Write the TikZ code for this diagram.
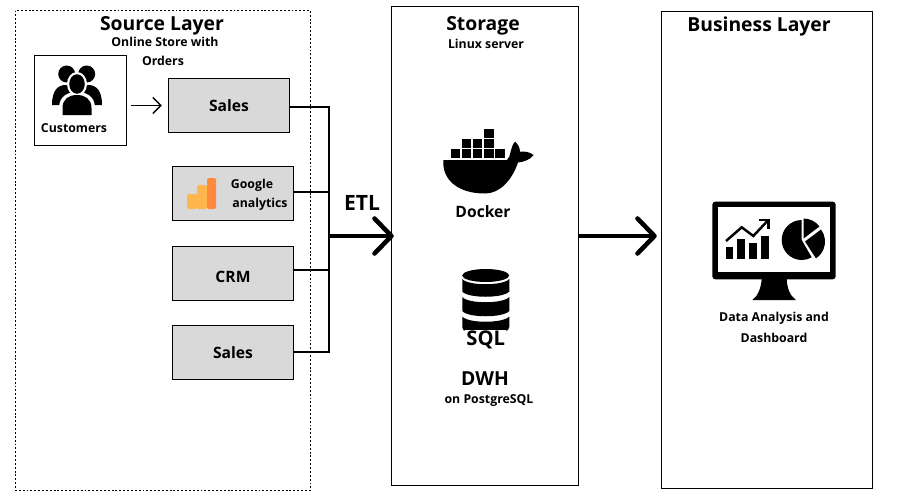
\documentclass[tikz,border=0pt]{standalone}
\usepackage{fontspec}
\setmainfont{Open Sans}
\usetikzlibrary{arrows.meta, positioning, shapes.geometric}
\definecolor{boxgray}{HTML}{D9D9D9}
\definecolor{gaLight}{HTML}{FFB74D}
\definecolor{gaDark}{HTML}{FF8A3D}
\tikzset{
  layerbox/.style={draw=black, line width=0.55pt, minimum width=#1, inner sep=0pt},
  srcbox/.style={draw=black, fill=boxgray, line width=0.55pt, minimum width=24.3mm, minimum height=10.9mm, inner sep=0pt},
  txttitle/.style={font=\fontsize{11}{13}\selectfont\bfseries, inner sep=0pt},
  txtbig/.style={font=\fontsize{11}{13}\selectfont\bfseries, inner sep=0pt},
  txtmid/.style={font=\fontsize{8.9}{10}\selectfont\bfseries, inner sep=0pt},
  txtsmall/.style={font=\fontsize{7}{8}\selectfont\bfseries, inner sep=0pt},
  busline/.style={line width=1.4pt, line cap=rect},
  bigarrow/.style={line width=2.6pt, -{Straight Barb[length=3.4mm,width=7mm,round]}},
}
\begin{document}
\begin{tikzpicture}[x=0.2mm, y=-0.2mm]
  \useasboundingbox (0,0) rectangle (914,500);
  \fill[white] (0,0) rectangle (914,500);

  % layers
  \node[layerbox=58.8mm, minimum height=95.8mm, draw=none] (source) at (163,250.5) {};
  \draw[line width=0.55pt, dash pattern=on 1.1pt off 1.1pt] (source.north west) rectangle (source.south east);
  \node[layerbox=37.5mm, minimum height=95.9mm] (storage) at (485,246) {};
  \node[layerbox=42.3mm, minimum height=95.5mm] (business) at (767,250) {};

  \node[txttitle] (sourcetitle) at (162,26) {Source Layer};
  \node[txtsmall] (sourcesub) at (165,42) {Online Store with};
  \node[txtsmall] (sourcesubb) at (163,61) {Orders};
  \node[txttitle] (storagetitle) at (483,26) {Storage};
  \node[txtsmall] (storagesub) at (486,44) {Linux server};
  \node[txttitle] (businesstitle) at (759,26) {Business Layer};

  % sources
  \node[layerbox=18.4mm, minimum height=18mm] (customers) at (80.5,100.5) {};
  \node[txtsmall] (customerstxt) at (74,128) {Customers};
  \node[srcbox] (salesa) at (229,105.5) {};
  \node[txtmid] (salesatxt) at (229,106) {Sales};
  \node[srcbox] (google) at (233,193.5) {};
  \node[txtsmall] (googletxt) at (252,185) {Google};
  \node[txtsmall] (analyticstxt) at (260,204) {analytics};
  \node[srcbox] (crm) at (233,273.5) {};
  \node[txtmid] (crmtxt) at (233,277) {CRM};
  \node[srcbox] (salesb) at (233,352.5) {};
  \node[txtmid] (salesbtxt) at (233,352.5) {Sales};

  % people icon
  \fill (66.7,74) circle[radius=1.7mm];
  \fill (86.7,74) circle[radius=1.7mm];
  \fill (52,105) .. controls (52,90) and (58,85) .. (66,85) -- (88,85)
        .. controls (96,85) and (102,90) .. (102,105) -- cycle;
  \fill[white] (77,84) ellipse[x radius=2mm, y radius=2.4mm];
  \fill[white] (59,116) -- (59,108) .. controls (59,96) and (68,92) .. (77,92)
        .. controls (86,92) and (95,96) .. (95,108) -- (95,116) -- cycle;
  \fill (77,84) ellipse[x radius=1.55mm, y radius=1.95mm];
  \fill (62.5,115) -- (62.5,108) .. controls (62.5,99) and (69,95) .. (77,95)
        .. controls (85,95) and (91.5,99) .. (91.5,108) -- (91.5,115) -- cycle;

  % google analytics icon
  \fill[gaLight, rounded corners=0.3mm] (187,194) rectangle (197,209);
  \fill[gaLight, rounded corners=0.3mm] (197,185) rectangle (207,209);
  \fill[gaDark, rounded corners=0.3mm] (207,178) rectangle (216,209);

  % connectors
  \coordinate (busa) at (329,107);
  \coordinate (busb) at (329,192);
  \coordinate (busc) at (329,270);
  \coordinate (busd) at (329,352);
  \coordinate (busmid) at (329,236);
  \coordinate (etltip) at ([xshift=0.6mm]storage.west |- busmid);
  \coordinate (outstart) at (storage.east |- busmid);
  \coordinate (outtip) at ([xshift=-0.8mm]business.west |- busmid);
  \draw[line width=0.8pt, -{Straight Barb[length=1.6mm,width=3.2mm]}, shorten <=0.8mm, shorten >=1.2mm]
        (customers.east |- salesa) -- (salesa.west);
  \draw[busline] (salesa.east |- busa) -- (busa) -- (busd) -- (salesb.east |- busd);
  \draw[busline] (google.east |- busb) -- (busb);
  \draw[busline] (crm.east |- busc) -- (busc);
  \draw[bigarrow] (busmid) -- (etltip);
  \draw[bigarrow] (outstart) -- (outtip);
  \node[font=\fontsize{12}{14}\selectfont\bfseries, inner sep=0pt] (etl) at (362,203) {ETL};

  % docker icon
  \foreach \bx in {450.7,461.7,472.7,484,495}
    \fill (\bx,149.3) rectangle ++(9.6,9);
  \foreach \bx in {461.7,472.7,484}
    \fill (\bx,139) rectangle ++(9.6,8.8);
  \fill (484,129.3) rectangle ++(9.6,8.2);
  \fill (443.3,160) -- (507,160) .. controls (511,157) and (510,147) .. (515,141.7)
        .. controls (518,144) and (520,148) .. (520,151.7)
        .. controls (524,151) and (530,152) .. (533.5,155)
        .. controls (530,160) and (523,162) .. (518,162.5)
        .. controls (512,180) and (500,193.5) .. (485,193.5)
        .. controls (458,193.5) and (442,180) .. (443.3,160) -- cycle;
  \node[txtmid] (docker) at (483,212) {Docker};

  % database icon
  \fill (485.7,275.5) ellipse[x radius=4.7mm, y radius=1.3mm];
  \fill (462.3,279) .. controls (468,286) and (503,286) .. (509.3,279) -- (509.3,291.5)
        .. controls (503,298.5) and (468,298.5) .. (462.3,291.5) -- cycle;
  \fill (462.3,297) .. controls (468,304) and (503,304) .. (509.3,297) -- (509.3,311)
        .. controls (503,318) and (468,318) .. (462.3,311) -- cycle;
  \fill (462.3,316.5) .. controls (468,323.5) and (503,323.5) .. (509.3,316.5) -- (509.3,327)
        .. controls (509.3,330) and (507,331) .. (505,331) -- (466,331)
        .. controls (464,331) and (462.3,330) .. (462.3,327) -- cycle;
  \node[font=\fontsize{11.5}{13}\selectfont\bfseries, fill=white, inner sep=0.2mm, text height=2.9mm, text depth=0.4mm] (sql) at (485.7,339.5) {SQL};
  \node[txtbig] (dwh) at (485,379) {DWH};
  \node[txtsmall] (postgres) at (489,401) {on PostgreSQL};

  % monitor icon
  \fill[rounded corners=0.6mm] (712.3,201.7) rectangle (835.7,279.3);
  \fill[white] (718.3,207.3) rectangle (830,271.7);
  \fill (761.7,279) -- (786.7,279) .. controls (787,288) and (790,296) .. (796,300)
        -- (752.3,300) .. controls (758,296) and (761,288) .. (761.7,279) -- cycle;
  \fill (725.7,247.3) rectangle (733.3,259.3);
  \fill (737.3,239.3) rectangle (745,259.3);
  \fill (749.3,243.3) rectangle (756.7,259.3);
  \fill (761.3,235.7) rectangle (769,259.3);
  \draw[line width=1.4pt] (726,241) -- (741.7,227.3) -- (753.3,236) -- (768.3,220);
  \draw[line width=1.4pt] (759,220) -- (768.3,220) -- (768.3,229);
  \fill (801.7,240) -- ++(0,-20) arc[start angle=90, end angle=300, radius=4mm] -- cycle;
  \fill (803.5,238.5) -- ++(0,-20) arc[start angle=90, end angle=37, radius=4mm] -- cycle;
  \fill (805,241.5) -- ++(16,-12) arc[start angle=37, end angle=-57, radius=4mm] -- cycle;
  \node[txtsmall] (dashtxta) at (774,318) {Data Analysis and};
  \node[txtsmall] (dashtxtb) at (774,337.5) {Dashboard};
\end{tikzpicture}
\end{document}
